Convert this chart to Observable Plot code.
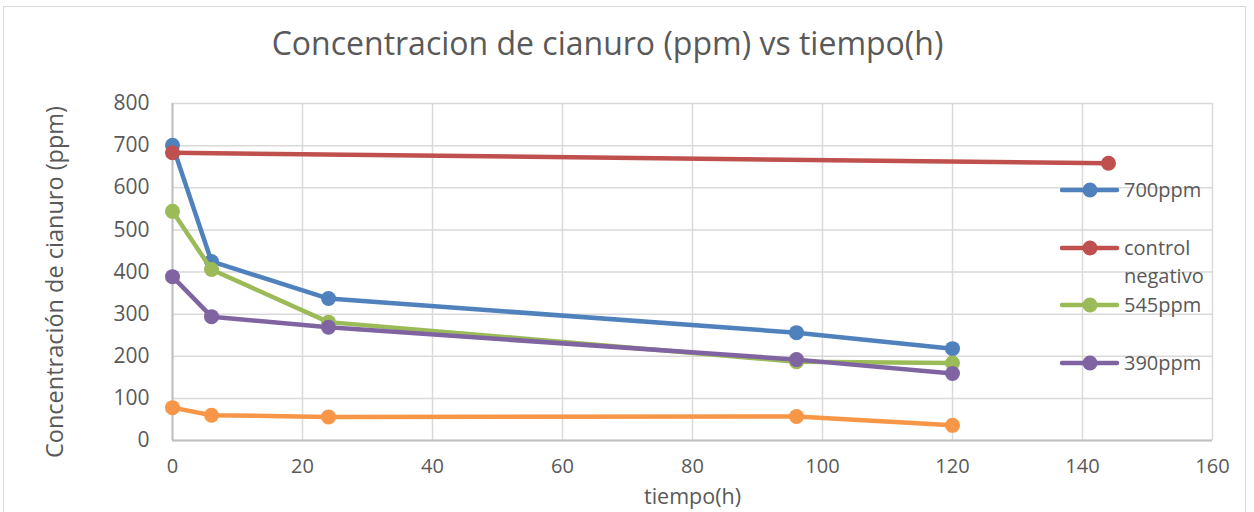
<!DOCTYPE html>
<html><head><meta charset="utf-8">
<script src="https://cdn.jsdelivr.net/npm/d3@7"></script>
<script src="https://cdn.jsdelivr.net/npm/@observablehq/plot@0.6"></script>
<style>
body{margin:0;background:#fff;font-family:"Open Sans",sans-serif;}
#wrap{position:relative;width:1254px;height:512px;overflow:hidden;}
#frame{position:absolute;left:3px;top:6px;width:1243px;height:540px;border:1.5px solid #d9d9d9;box-sizing:border-box;pointer-events:none;}
#chart{position:absolute;left:0;top:0;}
.leg{position:absolute;left:1060px;display:flex;align-items:flex-start;color:#595959;font-size:20px;line-height:28px;}
.leg svg{flex:none;margin-top:0;}
.leg span{display:block;width:92px;margin-left:4px;}
</style></head>
<body>
<div id="wrap"><div id="chart"></div><div id="frame"></div><div id="legend"></div></div>
<script>
const titleText = "Concentracion de cianuro (ppm) vs tiempo(h)";
const xTitle = "tiempo(h)";
const yTitle = "Concentración de cianuro (ppm)";
const xTicks = [0, 20, 40, 60, 80, 100, 120, 140, 160];
const yTicks = [0, 100, 200, 300, 400, 500, 600, 700, 800];

const tiempo = [0, 6, 24, 96, 120];
const s700 = [701, 425, 337, 256, 218];
const controlTiempo = [0, 144];
const controlNegativo = [683, 658];
const s545 = [544, 406, 281, 187, 184];
const s390 = [389, 294, 269, 192, 159];
const sBlanco = [78, 60, 56, 57, 36];

const seriesNames = ["700ppm", "control negativo", "545ppm", "390ppm", "blanco"];
const seriesColors = ["#4F81BD", "#C0504D", "#9BBB59", "#8064A2", "#F79646"];
const seriesX = [tiempo, controlTiempo, tiempo, tiempo, tiempo];
const seriesY = [s700, controlNegativo, s545, s390, sBlanco];
const legendNames = ["700ppm", "control negativo", "545ppm", "390ppm"];

const rows = [];
seriesNames.forEach((name, i) => seriesX[i].forEach((t, j) => rows.push({serie: name, t, v: seriesY[i][j]})));

const seriesMarks = [];
seriesNames.forEach((name, i) => {
  const d = rows.filter(r => r.serie === name);
  seriesMarks.push(Plot.line(d, {x: "t", y: "v", stroke: seriesColors[i], strokeWidth: 4.5, strokeLinejoin: "round", strokeLinecap: "round"}));
  seriesMarks.push(Plot.dot(d, {x: "t", y: "v", r: 7.5, fill: seriesColors[i], stroke: "none"}));
});

const chart = Plot.plot({
  width: 1254, height: 512,
  marginLeft: 172, marginRight: 42, marginTop: 103, marginBottom: 72,
  x: {domain: [0, 160], label: null},
  y: {domain: [0, 800], label: null},
  style: {fontFamily: "Open Sans", fontSize: "21px", color: "#595959", background: "transparent", overflow: "visible"},
  marks: [
    Plot.gridX(xTicks, {stroke: "#d9d9d9", strokeOpacity: 1, strokeWidth: 1.5}),
    Plot.gridY(yTicks, {stroke: "#d9d9d9", strokeOpacity: 1, strokeWidth: 1.5}),
    Plot.ruleY([0], {stroke: "#bfbfbf", strokeWidth: 2}),
    Plot.ruleX([0], {stroke: "#bfbfbf", strokeWidth: 2}),
    Plot.axisX(xTicks, {tickSize: 0, tickPadding: 18, fontSize: 20, fill: "#595959"}),
    Plot.axisY(yTicks, {tickSize: 0, tickPadding: 23, fontSize: 21, fill: "#595959"}),
    ...seriesMarks,
    Plot.text([titleText], {text: d => d, frameAnchor: "top", dx: -85, dy: -71, fontSize: 32, fill: "#595959"}),
    Plot.text([xTitle], {text: d => d, frameAnchor: "bottom", dy: 63, fontSize: 21.5, fill: "#595959"}),
    Plot.text([yTitle], {text: d => d, frameAnchor: "left", textAnchor: "middle", dx: -117, dy: 10, rotate: -90, fontSize: 23.5, fill: "#595959"})
  ]
});
document.getElementById("chart").appendChild(chart);

const legTops = [176, 234, 291, 349];
const legend = document.getElementById("legend");
legendNames.forEach((name, i) => {
  const div = document.createElement("div");
  div.className = "leg";
  div.style.top = legTops[i] + "px";
  const c = seriesColors[seriesNames.indexOf(name)];
  div.innerHTML = `<svg width="60" height="28"><line x1="2" x2="57" y1="14" y2="14" stroke="${c}" stroke-width="4.5" stroke-linecap="round"/><circle cx="30" cy="14" r="7.5" fill="${c}"/></svg><span>${name}</span>`;
  legend.appendChild(div);
});
</script>
</body></html>
